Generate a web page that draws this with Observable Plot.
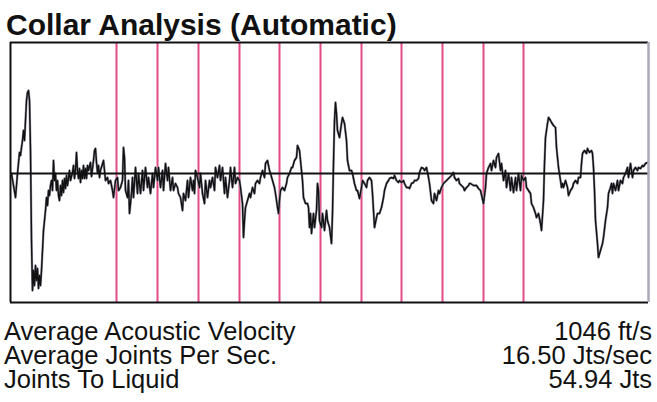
<!DOCTYPE html>
<html>
<head>
<meta charset="utf-8">
<script src="https://cdn.jsdelivr.net/npm/d3@7"></script>
<script src="https://cdn.jsdelivr.net/npm/@observablehq/plot@0.6"></script>
<style>
  html, body { margin: 0; padding: 0; background: #fff; }
  #wrap { position: relative; width: 657px; height: 402px; overflow: hidden; font-family: "Liberation Sans", Arial, sans-serif; color: #111; }
  #title { position: absolute; left: 6px; top: 10px; font-size: 30px; line-height: 30px; font-weight: bold; white-space: nowrap; }
  #chart { position: absolute; left: 0; top: 40px; }
  .row { position: absolute; left: 4px; right: 5px; font-size: 25.5px; line-height: 22px; height: 22px; white-space: nowrap; }
  .row .v { position: absolute; right: 0; top: 0; }
</style>
</head>
<body>
<div id="wrap">
  <div id="title"></div>
  <div id="chart"></div>
  <div id="rows"></div>
</div>
<script>
const titleText = "Collar Analysis (Automatic)";

// Sample positions (arbitrary time units) and signal amplitude
const sampleT = [1,3,5,6,7,9,10,11,12,13,14,15,16,17,18,19,20,21,22,23,24,25,26,27,28,29,30,31,32,33,34,35,36,37,38,39,40,41,42,43,44,45,46,47,48,49,50,51,52,53,54,55,56,57,58,59,60,62,63,64,65,66,67,68,69,70,71,72,73,74,75,76,77,78,80,81,82,83,84,85,86,87,88,89,90,
93,95,97,98,100,102,103,105,107,108,110,112,113,114,115,117,118,119,121,122,123,125,127,128,130,132,133,135,137,138,140,142,143,145,147,148,150,152,153,155,157,158,160,162,163,165,167,168,170,172,173,175,177,178,180,182,183,
184,185,187,189,190,192,194,195,197,199,200,202,204,205,207,209,210,212,214,215,217,219,220,222,224,225,227,229,230,232,233,234,235,237,239,240,242,244,245,247,249,250,252,254,255,257,259,260,262,264,265,267,268,269,270,272,274,
276,277,279,281,282,284,286,287,289,290,291,292,293,295,297,298,299,300,301,303,304,306,307,308,309,311,312,314,316,317,319,321,322,323,324,325,326,327,329,331,332,334,336,337,339,341,342,344,346,347,349,351,352,354,356,357,359,361,362,364,366,367,
369,370,371,373,374,376,378,379,381,383,384,386,388,389,391,393,394,396,398,399,401,403,404,406,408,409,411,413,414,416,418,419,421,423,424,426,428,429,431,433,434,436,438,439,441,443,444,446,448,449,451,453,454,456,458,459,
460,463,466,468,470,473,475,476,478,480,481,483,485,486,488,490,491,493,495,496,498,500,501,503,505,506,508,510,511,513,515,516,518,520,521,523,525,526,528,530,531,533,534,535,537,538,540,541,543,545,546,548,550,551,
552,553,555,557,558,560,562,563,565,567,568,570,571,572,574,576,577,579,581,582,583,584,585,587,588,590,592,593,595,597,598,600,601,602,603,605,607,608,610,612,613,615,617,618,620,622,623,625,627,628,630,632,633,635,637];

const amplitude = [0,-12,-24,-12,0,21,18,26,33,43,33,53,73,81,83,73,23,-67,-117,-97,-112,-92,-107,-95,-115,-102,-112,-97,-77,-57,-47,-37,-24,-32,-17,-22,-12,-7,-17,13,-7,0,-17,-7,-22,-27,-12,-22,-7,-19,-5,-15,-2,-12,-5,3,-7,1,8,-5,3,21,3,-5,5,-9,3,-5,8,-5,5,-5,8,3,11,-3,5,13,23,25,11,1,8,-4,3,
13,-7,-4,-10,-7,-17,-24,-7,-4,-17,-14,-7,26,16,-17,-24,-7,-40,-20,-4,-24,6,-20,0,-20,3,-17,6,-14,-4,-20,0,-14,6,-7,6,-14,3,-17,10,-7,6,-17,-4,-17,-10,-14,-20,-24,-37,-20,-27,-7,-24,-4,-17,-7,
-20,3,-4,-14,0,-20,-30,-7,-24,-7,-14,-4,-17,6,-4,8,-7,6,-20,-4,-24,-7,6,-14,6,-10,-4,-7,-14,-30,-64,-47,-34,-27,-20,-24,-14,-20,-10,-7,-10,-4,3,-4,10,13,3,0,-7,-14,-20,-34,-40,-27,-17,-14,-17,
-10,-4,0,6,6,13,16,28,23,13,3,-7,-24,-30,-30,-34,-54,-40,-60,-40,-54,-37,-10,-17,-47,-54,-40,-57,-37,-47,-54,-70,-40,10,53,71,60,43,36,50,56,50,33,13,3,3,0,-10,-17,-17,-25,-14,-7,-10,-14,-7,-4,-7,-20,-54,-44,-40,
-40,-37,-34,-24,-17,-10,-7,-5,-4,-5,-2,-7,-9,-7,-9,-7,-10,-14,-14,-15,-10,-9,-7,-7,-5,1,6,5,3,6,-4,-10,-27,-30,-20,-27,-17,-20,-14,-10,-9,-7,-5,-4,-2,1,-4,-7,-5,-10,-12,-14,-17,-14,-12,-10,
-10,-12,-12,-15,-17,-30,-14,0,6,10,3,13,6,16,20,3,10,-7,3,-14,0,-17,-4,-19,-4,-17,0,-17,-2,-7,-4,-14,-17,-20,-30,-34,-40,-44,-40,-50,-57,-27,10,36,50,56,53,51,48,46,26,6,-7,-14,
-10,-14,-7,-14,-22,-17,-14,-10,-7,-10,-4,-4,10,20,23,20,25,21,23,20,6,-17,-47,-70,-84,-77,-70,-64,-47,-34,-20,-14,-10,-20,-10,-17,-7,-17,-7,-10,-4,0,6,-4,10,-4,3,6,3,6,5,8,7,10,11];

// Joint (collar) markers, same time units
const jointT = [106,147,188,229,269,310,351,391,432,473,513];

// Readout table
const readLabels = ["Average Acoustic Velocity","Average Joints Per Sec.","Joints To Liquid"];
const readValues = ["1046 ft/s","16.50 Jts/sec","54.94 Jts"];

const signal = sampleT.map((t, i) => ({t, a: amplitude[i]}));
const tMin = 0, tMax = 638, aMin = -129, aMax = 131;

document.getElementById("title").textContent = titleText;

const plot = Plot.plot({
  width: 657,
  height: 264,
  marginLeft: 10,
  marginRight: 9,
  marginTop: 2,
  marginBottom: 2,
  x: {domain: [tMin, tMax], axis: null},
  y: {domain: [aMin, aMax], axis: null},
  marks: [
    Plot.ruleX(jointT, {stroke: "#e44a86", strokeWidth: 2}),
    Plot.line(signal, {x: "t", y: "a", stroke: "#9a9aaa", strokeWidth: 2.4, curve: "linear"}),
    Plot.line(signal, {x: "t", y: "a", stroke: "#111", strokeWidth: 1.4, curve: "linear"}),
    Plot.ruleY([0], {stroke: "#111", strokeWidth: 2}),
    Plot.ruleY([aMin, aMax], {stroke: "#111", strokeWidth: 2}),
    Plot.ruleX([tMin], {stroke: "#111", strokeWidth: 2}),
    Plot.ruleX([tMax], {stroke: "#a8aab8", strokeWidth: 2.5})
  ]
});
document.getElementById("chart").appendChild(plot);

const rows = document.getElementById("rows");
readLabels.forEach((lab, i) => {
  const r = document.createElement("div");
  r.className = "row";
  r.style.top = (320 + i * 24) + "px";
  r.textContent = lab;
  const v = document.createElement("span");
  v.className = "v";
  v.textContent = readValues[i];
  r.appendChild(v);
  rows.appendChild(r);
});
</script>
</body>
</html>
